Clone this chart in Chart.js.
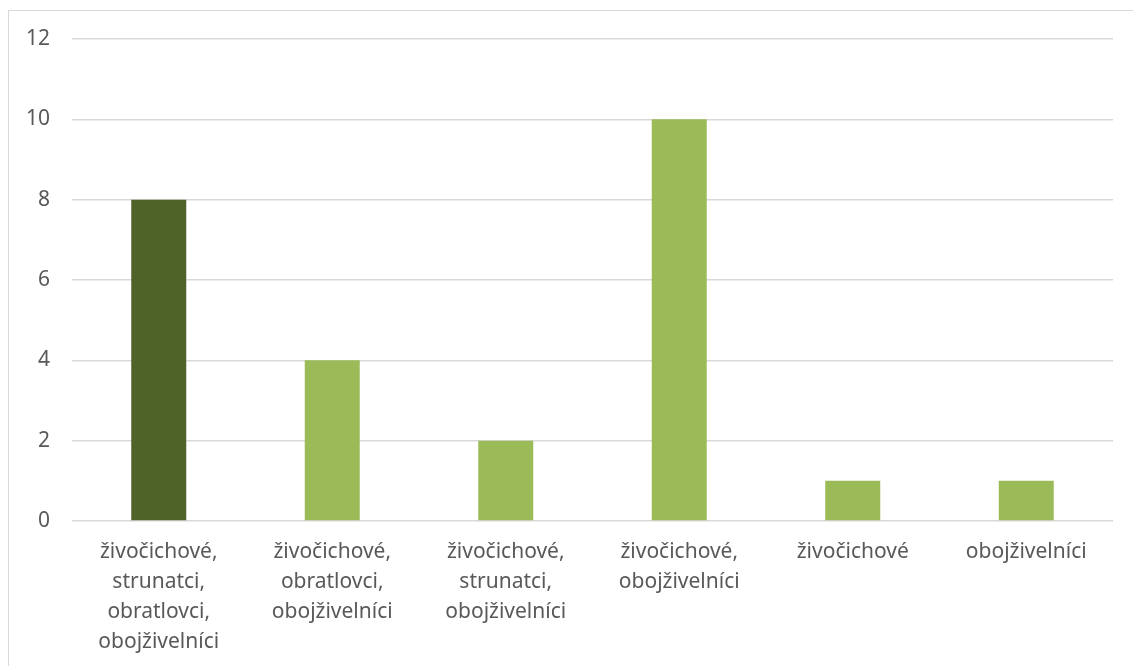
<!DOCTYPE html>
<html>
<head>
<meta charset="utf-8">
<script src="https://cdn.jsdelivr.net/npm/chart.js@4"></script>
<style>
  body { margin: 0; background: #fff; }
  #frame { position: absolute; left: 8px; top: 10px; width: 1140px; height: 670px; border: 1px solid #d9d9d9; }
  #wrap { position: absolute; left: 0; top: 0; width: 1133px; height: 666px; }
</style>
</head>
<body>
<div id="frame"></div>
<div id="wrap"><canvas id="chart"></canvas></div>
<script>
const categories = [
  ["živočichové,", "strunatci,", "obratlovci,", "obojživelníci"],
  ["živočichové,", "obratlovci,", "obojživelníci"],
  ["živočichové,", "strunatci,", "obojživelníci"],
  ["živočichové,", "obojživelníci"],
  ["živočichové"],
  ["obojživelníci"]
];
const values = [8, 4, 2, 10, 1, 1];
const barColors = ["#4F6228", "#9BBB59", "#9BBB59", "#9BBB59", "#9BBB59", "#9BBB59"];
const yTicks = { min: 0, max: 12, step: 2 };

new Chart(document.getElementById("chart"), {
  type: "bar",
  data: {
    labels: categories,
    datasets: [{
      data: values,
      backgroundColor: barColors,
      categoryPercentage: 1,
      barPercentage: 0.317
    }]
  },
  options: {
    responsive: true,
    maintainAspectRatio: false,
    animation: false,
    layout: { padding: { top: 39, right: 20, left: 0, bottom: 0 } },
    plugins: { legend: { display: false }, tooltip: { enabled: false } },
    scales: {
      x: {
        grid: { display: false },
        border: { display: false },
        ticks: {
          color: "#595959",
          font: { family: "Noto Sans", size: 21, lineHeight: 30 / 21 },
          padding: 8,
          maxRotation: 0,
          autoSkip: false
        },
        afterFit: (scale) => { scale.height = 145; }
      },
      y: {
        min: yTicks.min,
        max: yTicks.max,
        grid: { color: "#d9d9d9", lineWidth: 1.5, drawTicks: false },
        border: { display: false },
        ticks: {
          stepSize: yTicks.step,
          color: "#595959",
          font: { family: "Noto Sans", size: 21 },
          padding: 22
        },
        afterFit: (scale) => { scale.width = 72; }
      }
    }
  }
});
</script>
</body>
</html>
